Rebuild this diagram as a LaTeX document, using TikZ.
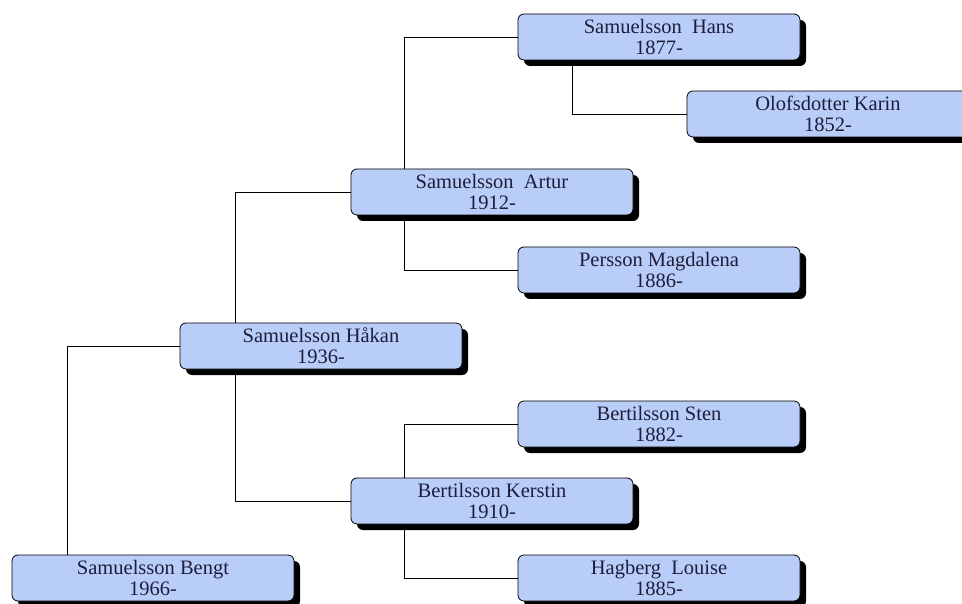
\documentclass[tikz,border=0pt]{standalone}
\usepackage{fontspec}
\setmainfont{Liberation Serif}
\usetikzlibrary{shadows,backgrounds}
\definecolor{boxfill}{RGB}{184,206,248}
\definecolor{boxtext}{RGB}{30,30,60}
\tikzset{
  person/.style={draw=black, line width=0.8pt, fill=boxfill, rounded corners=6pt,
    minimum width=282pt, minimum height=46pt, inner sep=0pt, align=center,
    text=boxtext, font=\fontsize{20.5}{21}\selectfont,
    drop shadow={shadow xshift=6pt, shadow yshift=-6pt, fill=black, opacity=1}},
  link/.style={draw=black, line width=0.9pt}
}
\begin{document}
\begin{tikzpicture}[x=1pt,y=-1pt]
\useasboundingbox (0,0) rectangle (962,604);
\node[person] (hans) at (659,37) {Samuelsson\ \ Hans\\1877-};
\node[person] (karin) at (828,114) {Olofsdotter Karin\\1852-};
\node[person] (artur) at (492,192) {Samuelsson\ \ Artur\\1912-};
\node[person] (magdalena) at (659,270) {Persson Magdalena\\1886-};
\node[person] (hakan) at (321,346) {Samuelsson Håkan\\1936-};
\node[person] (sten) at (659,424) {Bertilsson Sten\\1882-};
\node[person] (kerstin) at (492,501) {Bertilsson Kerstin\\1910-};
\node[person] (louise) at (659,578) {Hagberg\ \ Louise\\1885-};
\node[person] (bengt) at (153,578) {Samuelsson Bengt\\1966-};
\begin{scope}[on background layer]
\fill[white] (0,0) rectangle (962,604);
\draw[link] ([xshift=56pt]bengt.north west) |- (hakan.west);
\draw[link] ([xshift=56pt]hakan.north west) |- (artur.west);
\draw[link] ([xshift=56pt]hakan.south west) |- (kerstin.west);
\draw[link] ([xshift=54pt]artur.north west) |- (hans.west);
\draw[link] ([xshift=54pt]artur.south west) |- (magdalena.west);
\draw[link] ([xshift=55pt]hans.south west) |- (karin.west);
\draw[link] ([xshift=54pt]kerstin.north west) |- (sten.west);
\draw[link] ([xshift=54pt]kerstin.south west) |- (louise.west);
\end{scope}
\end{tikzpicture}
\end{document}
